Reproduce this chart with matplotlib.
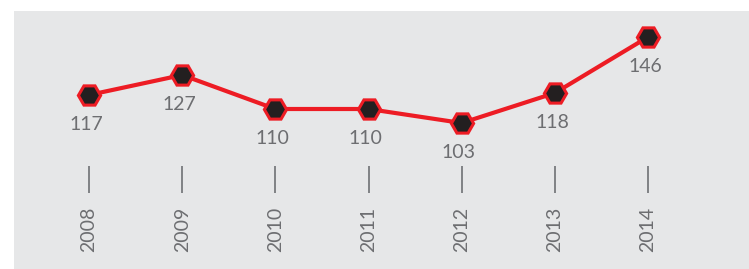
import matplotlib.pyplot as plt
import numpy as np
from matplotlib.transforms import blended_transform_factory

years = ["2008", "2009", "2010", "2011", "2012", "2013", "2014"]
values = [117, 127, 110, 110, 103, 118, 146]

RED = "#ed1c24"
DARK = "#231f20"
GREY = "#6d6e71"
BG = "#e6e7e8"

fig = plt.figure(figsize=(7.49, 2.69), dpi=100)
fig.patch.set_facecolor("white")
ax = fig.add_axes([14 / 749, 0, 735 / 749, 258 / 269])
ax.set_facecolor(BG)

x = np.arange(len(years))
ax.plot(x, values, color=RED, lw=3, zorder=2, solid_joinstyle="miter")
ax.plot(x, values, ls="none", marker="H", ms=16, mfc=DARK, mec=RED, mew=2.2, zorder=3)

for xi, v in zip(x, values):
    ax.annotate(str(v), (xi, v), xytext=(-2, -21), textcoords="offset points",
                ha="center", va="center", fontsize=14, color=GREY,
                family="Lato")

# year ticks drawn as short vertical strokes under the plot
trans = blended_transform_factory(ax.transData, ax.transAxes)
ax.vlines(x, 0.295, 0.399, transform=trans, color="#808285", lw=1.4)
for xi, yr in zip(x, years):
    ax.text(xi, 0.24, yr, transform=trans, rotation=90, ha="center", va="top",
            fontsize=14, color=GREY, family="Lato")

ax.set_xlim(-0.805, 7.084)
ax.set_ylim(30, 159)
ax.set_xticks([])
ax.set_yticks([])
for s in ax.spines.values():
    s.set_visible(False)

fig.savefig("out.png", dpi=100, facecolor="white")
